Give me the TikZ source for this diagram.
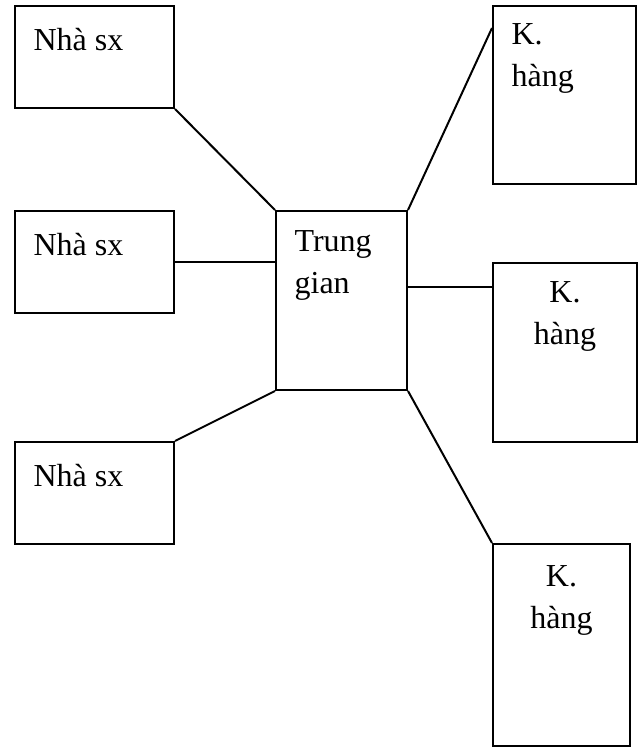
\documentclass[tikz,border=0pt]{standalone}
\usepackage{fontspec}
\setmainfont{Liberation Serif}
\usetikzlibrary{positioning}

\begin{document}
\begin{tikzpicture}[
    x=0.75pt, y=-0.75pt,
    box/.style 2 args={rectangle, draw, line width=1.5pt, minimum width=#1*0.75pt, minimum height=#2*0.75pt, anchor=north west, inner sep=0pt},
    txt/.style={inner sep=0pt, font=\fontsize{24}{32}\selectfont},
    link/.style={line width=1.5pt}
]
    \useasboundingbox (0,0) rectangle (637,748);

    % Producers (left column)
    \node[box={159}{102}, label={[txt, anchor=north west, xshift=14.5pt, yshift=-17.3pt]north west:Nhà sx}] (sx1) at (14,5) {};
    \node[box={159}{102}, label={[txt, anchor=north west, xshift=14.5pt, yshift=-17.3pt]north west:Nhà sx}] (sx2) at (14,210) {};
    \node[box={159}{102}, label={[txt, anchor=north west, xshift=14.5pt, yshift=-17.3pt]north west:Nhà sx}] (sx3) at (14,441) {};

    % Intermediary
    \node[box={131}{179}, label={[txt, align=left, anchor=north west, xshift=14.5pt, yshift=-15pt]north west:{Trung\\gian}}] (tg) at (275,210) {};

    % Customers (right column)
    \node[box={143}{178}, label={[txt, align=left, anchor=north west, xshift=14.5pt, yshift=-13.5pt]north west:{K.\\hàng}}] (kh1) at (492,5) {};
    \node[box={144}{179}, label={[txt, align=center, anchor=north, yshift=-14.3pt]north:{K.\\hàng}}] (kh2) at (492,262) {};
    \node[box={137}{202}, label={[txt, align=center, anchor=north, yshift=-16.5pt]north:{K.\\hàng}}] (kh3) at (492,543) {};

    % Links
    \coordinate (tgr) at ([yshift=10pt]tg.east);
    \draw[link] (sx1.south east) -- (tg.north west);
    \draw[link] (sx2.east) -- (sx2.east -| tg.west);
    \draw[link] (sx3.north east) -- (tg.south west);
    \draw[link] (tg.north east) -- ([yshift=-17.25pt]kh1.north west);
    \draw[link] (tgr) -- (tgr -| kh2.west);
    \draw[link] (tg.south east) -- (kh3.north west);

\end{tikzpicture}
\end{document}
